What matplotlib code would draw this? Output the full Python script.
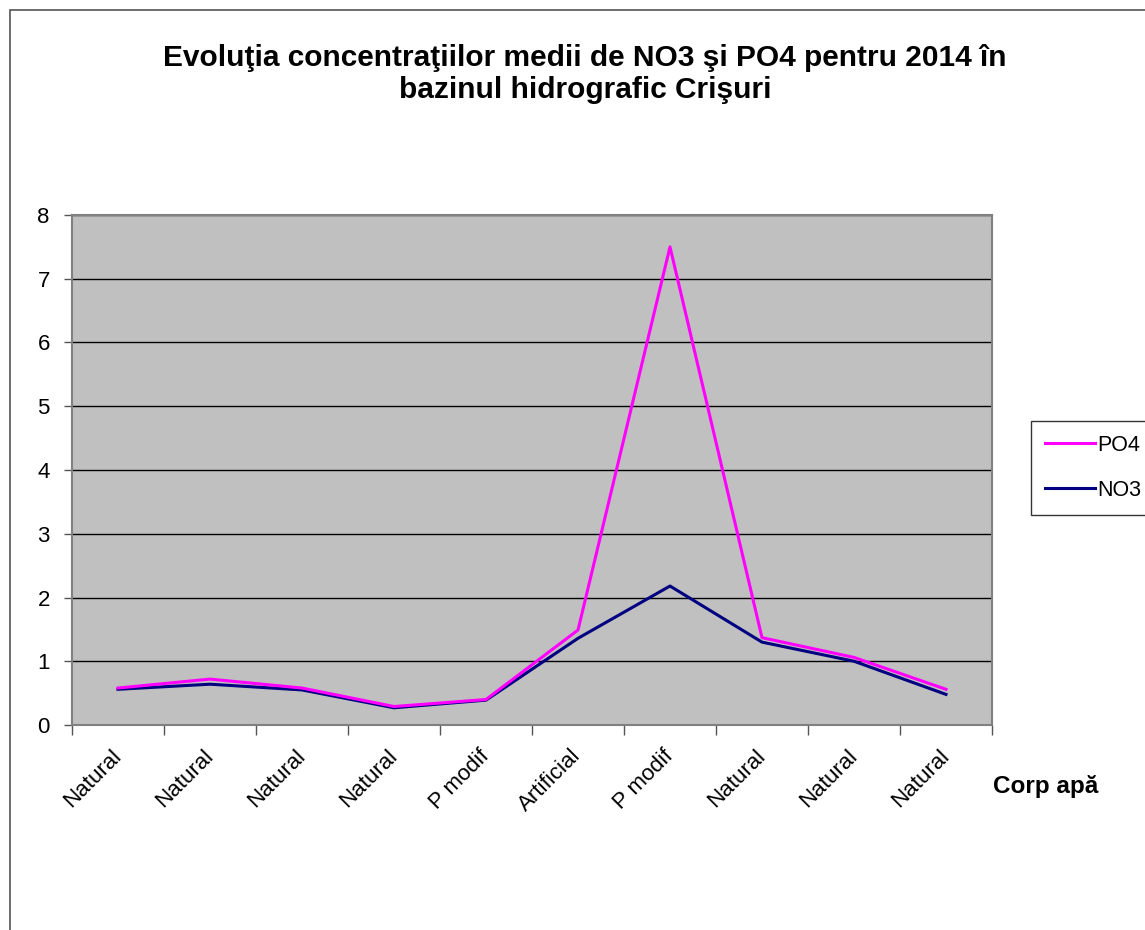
import matplotlib.pyplot as plt
from matplotlib.patches import Rectangle

plt.rcParams['font.family'] = ['Liberation Sans', 'DejaVu Sans']

categories = ['Natural', 'Natural', 'Natural', 'Natural', 'P modif',
              'Artificial', 'P modif', 'Natural', 'Natural', 'Natural']
po4 = [0.58, 0.72, 0.58, 0.29, 0.40, 1.49, 7.50, 1.37, 1.06, 0.56]
no3 = [0.56, 0.64, 0.55, 0.27, 0.39, 1.36, 2.18, 1.30, 1.00, 0.48]

fig = plt.figure(figsize=(11.45, 9.30), dpi=100)
# outer chart frame
fig.patches.append(Rectangle((10 / 1145, -0.1), 1.2, 1 - 10 / 930 + 0.1,
                             transform=fig.transFigure, fill=False,
                             edgecolor='#555555', linewidth=1.2))

ax = fig.add_axes([72 / 1145, 1 - 725 / 930, 920 / 1145, 510 / 930])
ax.set_facecolor('#C0C0C0')

x = range(len(categories))
ax.plot(x, po4, color='#FF00FF', linewidth=2.2, label='PO4', zorder=3)
ax.plot(x, no3, color='#000080', linewidth=2.2, label='NO3', zorder=2)

ax.set_xlim(-0.5, len(categories) - 0.5)
ax.set_ylim(0, 8)
ax.set_yticks(range(0, 9))
ax.yaxis.grid(True, color='black', linewidth=1)
ax.set_axisbelow(True)
ax.tick_params(axis='y', labelsize=16, length=6, width=1, color='#555555', pad=10)

ax.set_xticks([i + 0.5 for i in range(-1, len(categories))], minor=False)
ax.set_xticklabels([])
ax.set_xticks(list(x), minor=True)
ax.set_xticklabels(categories, minor=True, rotation=45, ha='right', va='center',
                   rotation_mode='anchor', fontsize=16)
ax.tick_params(axis='x', which='major', length=7, width=1, color='#555555')
ax.tick_params(axis='x', which='minor', length=0, pad=20)
for s in ax.spines.values():
    s.set_color('#808080')
    s.set_linewidth(1.5)

fig.text(585 / 1145, 1 - 74 / 930, 'Evoluţia concentraţiilor medii de NO3 şi PO4 pentru 2014 în\nbazinul hidrografic Crişuri',
         ha='center', va='center', fontsize=21.5, fontweight='bold', linespacing=1.2)
fig.text(993 / 1145, 1 - 787 / 930, 'Corp apă', ha='left', va='center',
         fontsize=17.5, fontweight='bold')

leg = fig.legend(loc='upper left', bbox_to_anchor=(1031 / 1145, 1 - 421 / 930),
                 fontsize=15.5, frameon=True, fancybox=False, handlelength=2.3,
                 handletextpad=0.15, labelspacing=1.1, borderpad=0.65,
                 borderaxespad=0)
leg.get_frame().set_edgecolor('black')
leg.get_frame().set_linewidth(1)

fig.savefig('out.png', dpi=100)
